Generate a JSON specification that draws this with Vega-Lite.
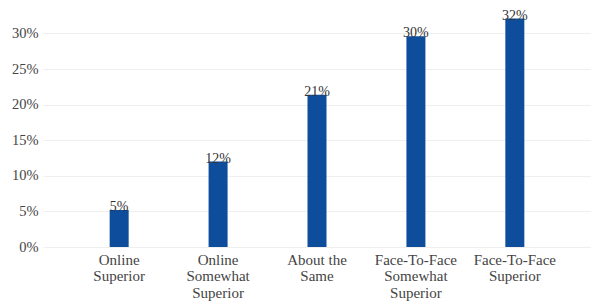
{
  "$schema": "https://vega.github.io/schema/vega-lite/v6.json",
  "autosize": {"type": "none"},
  "padding": {"left": 43, "top": 0, "right": 0, "bottom": 55},
  "width": 548,
  "height": 247,
  "background": "white",
  "data": {"values": [
    {"category": "Online|Superior", "value": 0.052, "order": 1},
    {"category": "Online|Somewhat|Superior", "value": 0.12, "order": 2},
    {"category": "About the|Same", "value": 0.214, "order": 3},
    {"category": "Face-To-Face|Somewhat|Superior", "value": 0.296, "order": 4},
    {"category": "Face-To-Face|Superior", "value": 0.321, "order": 5}
  ]},
  "config": {
    "view": {"stroke": null},
    "font": "Times New Roman, Liberation Serif, serif"
  },
  "encoding": {
    "x": {
      "field": "category", "type": "nominal",
      "sort": {"field": "order"},
      "scale": {"paddingInner": 0, "paddingOuter": 0.27},
      "axis": {
        "title": null, "labelAngle": 0, "domain": false, "ticks": false,
        "labelExpr": "split(datum.value, '|')",
        "labelFont": "Times New Roman, Liberation Serif, serif", "labelFontSize": 15, "labelColor": "#444",
        "labelLineHeight": 16.5, "labelPadding": 5, "labelBaseline": "top"
      }
    },
    "y": {
      "field": "value", "type": "quantitative",
      "scale": {"domain": [0, 0.347], "nice": false},
      "axis": {
        "title": null, "format": ".0%", "values": [0, 0.05, 0.1, 0.15, 0.2, 0.25, 0.3],
        "domain": false, "ticks": false, "gridColor": "#efefef", "gridWidth": 1,
        "labelFont": "Times New Roman, Liberation Serif, serif", "labelFontSize": 14.5, "labelColor": "#444",
        "labelPadding": 5
      }
    }
  },
  "layer": [
    {"mark": {"type": "bar", "width": 19, "color": "#0d4d9c"}},
    {
      "mark": {"type": "text", "baseline": "alphabetic", "dy": 1, "font": "Times New Roman, Liberation Serif, serif", "fontSize": 14, "color": "#333"},
      "encoding": {"text": {"field": "value", "type": "quantitative", "format": ".0%"}}
    }
  ]
}
